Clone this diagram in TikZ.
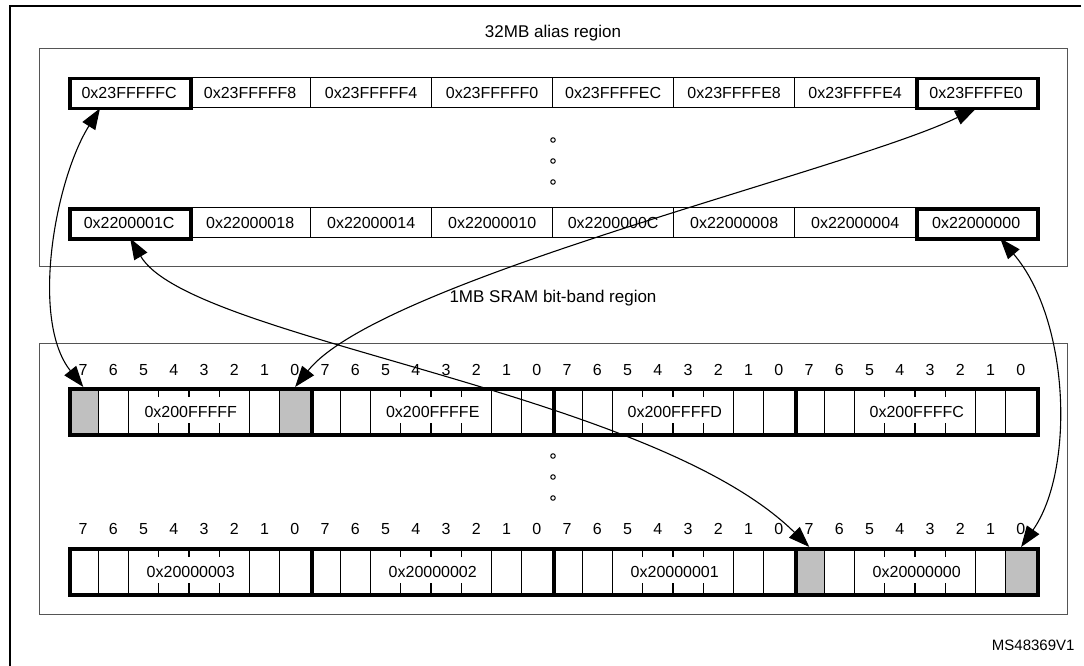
\documentclass[tikz,border=0pt]{standalone}
\usepackage{fontspec}
\setmainfont{Liberation Sans}
\usetikzlibrary{arrows.meta,calc}
\definecolor{bitgray}{RGB}{192,192,192}
\definecolor{boxgray}{RGB}{85,85,85}
\begin{document}
\begin{tikzpicture}[x=1pt,y=-1pt,
  lbl/.style={font=\fontsize{16}{18}\selectfont},
  ttl/.style={font=\fontsize{17}{19}\selectfont},
  region/.style={draw=boxgray, line width=1.3, inner sep=0, anchor=north west},
  cell/.style={draw, line width=1.3, minimum width=121, minimum height=30, inner sep=0, anchor=north west, lbl},
  cellthick/.style={cell, line width=3.5},
  bytebox/.style={draw, line width=3.5, minimum width=242, minimum height=46, inner sep=0, anchor=north west, lbl},
  graybit/.style={fill=bitgray, minimum width=30.25, minimum height=46, inner sep=0, anchor=north west},
  bitline/.style={line width=1.2},
  dbl/.style={{Triangle[length=21pt,width=15pt]}-{Triangle[length=21pt,width=15pt]}, line width=1.1},
  vdot/.style={draw, line width=1, circle, minimum size=4.5, inner sep=0}
]
\useasboundingbox (0,0) rectangle (1084,666);
% outer frame (cropped)
\draw[line width=2] (1081,6) -- (10,6) -- (10,666);

% alias region
\node[region, minimum width=1028, minimum height=218] (alias) at (39,48) {};
\node[ttl] (aliasT) at (553,33) {32MB alias region};
\foreach \i/\t in {1/0x23FFFFFC,2/0x23FFFFF8,3/0x23FFFFF4,4/0x23FFFFF0,5/0x23FFFFEC,6/0x23FFFFE8,7/0x23FFFFE4,8/0x23FFFFE0}{
  \node[cell] (a\i) at ({68+121*(\i-1)},77) {\t};
}
\foreach \i/\t in {1/0x2200001C,2/0x22000018,3/0x22000014,4/0x22000010,5/0x2200000C,6/0x22000008,7/0x22000004,8/0x22000000}{
  \node[cell] (b\i) at ({68+121*(\i-1)},207) {\t};
}
\node[cellthick] at (a1.north west) {};
\node[cellthick] at (a8.north west) {};
\node[cellthick] at (b1.north west) {};
\node[cellthick] at (b8.north west) {};
\node[vdot] (ad1) at (553,140) {};
\node[vdot] (ad2) at (553,161) {};
\node[vdot] (ad3) at (553,182) {};

% bit-band region
\node[region, minimum width=1028, minimum height=271] (bb) at (39,343) {};
\node[ttl] (bbT) at (553,298) {1MB SRAM bit-band region};
\node[vdot] (bd1) at (553,456) {};
\node[vdot] (bd2) at (553,477) {};
\node[vdot] (bd3) at (553,498) {};

% gray bits
\node[graybit] (g1) at (68,387) {};
\node[graybit] (g2) at (279.75,387) {};
\node[graybit] (g3) at (794,547) {};
\node[graybit] (g4) at (1005.75,547) {};

% bit numbers and bit separators
\foreach \top/\ny in {387/370,547/529}{
  \foreach \j in {0,...,3}{
    \foreach \k in {0,...,7}{
      \pgfmathtruncatemacro{\b}{7-\k}
      \node[lbl] at ({68+242*\j+30.25*(\k+0.5)},\ny) {\b};
    }
    \foreach \k in {1,2,6,7}{
      \draw[bitline] ({68+242*\j+30.25*\k},\top) -- ++(0,46);
    }
    \foreach \k in {3,4,5}{
      \draw[bitline] ({68+242*\j+30.25*\k},\top) -- ++(0,10);
      \draw[bitline] ({68+242*\j+30.25*\k},\top+46) -- ++(0,-10);
    }
  }
}
% bytes
\foreach \j/\t in {1/0x200FFFFF,2/0x200FFFFE,3/0x200FFFFD,4/0x200FFFFC}{
  \node[bytebox] (r\j) at ({68+242*(\j-1)},387) {\t};
}
\foreach \j/\t in {1/0x20000003,2/0x20000002,3/0x20000001,4/0x20000000}{
  \node[bytebox] (s\j) at ({68+242*(\j-1)},547) {\t};
}

% connectors
\coordinate (t1) at ($(a1.south west)+(32,0)$);
\coordinate (t2) at (a8.south);
\coordinate (t3) at ($(b1.south)+(1,0)$);
\coordinate (t4) at ($(b8.south)+(24,0)$);
\draw[dbl] (t1) .. controls (55,180) and (30,320) .. (g1.north);
\draw[dbl] (t2) .. controls (850,170) and (380,280) .. (g2.north);
\draw[dbl] (t3) .. controls (190,340) and (650,390) .. (g3.north);
\draw[dbl] (t4) .. controls (1070,320) and (1075,470) .. (g4.north);

\node[font=\fontsize{15}{17}\selectfont, anchor=east] (ms) at (1078,645) {MS48369V1};
\end{tikzpicture}
\end{document}
